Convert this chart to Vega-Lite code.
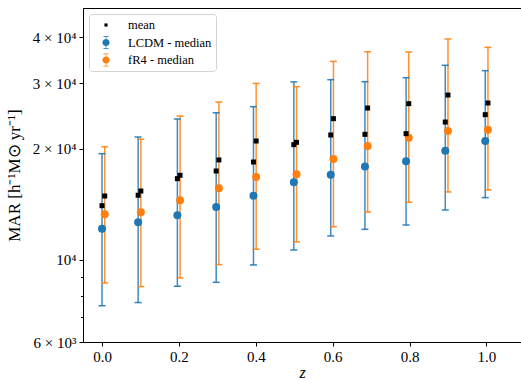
{
  "$schema": "https://vega.github.io/schema/vega-lite/v6.json",
  "width": 438,
  "height": 334,
  "autosize": {"type": "none"},
  "padding": {"left": 83, "top": 8, "right": 0, "bottom": 38},
  "background": "white",
  "config": {
    "view": {"stroke": "black", "strokeWidth": 1},
    "font": "Liberation Serif",
    "axis": {
      "grid": false,
      "domainColor": "black",
      "domainWidth": 1,
      "tickColor": "black",
      "tickWidth": 1,
      "tickSize": 4,
      "labelFont": "Liberation Serif",
      "labelFontSize": 15,
      "labelColor": "black",
      "labelPadding": 3,
      "titleFont": "Liberation Serif",
      "titleFontSize": 17,
      "titleFontWeight": "normal",
      "titleColor": "black"
    },
    "legend": {
      "labelFont": "Liberation Serif",
      "labelFontSize": 12.5,
      "labelColor": "black"
    }
  },
  "data": {
    "values": [
      {"series": "LCDM - median", "z": 0.0, "med": 12150, "lo": 7520, "hi": 19380, "mean": 14020},
      {"series": "LCDM - median", "z": 0.094, "med": 12640, "lo": 7670, "hi": 21500, "mean": 14960},
      {"series": "LCDM - median", "z": 0.196, "med": 13200, "lo": 8490, "hi": 24050, "mean": 16590},
      {"series": "LCDM - median", "z": 0.297, "med": 13910, "lo": 8700, "hi": 25000, "mean": 17400},
      {"series": "LCDM - median", "z": 0.394, "med": 14920, "lo": 9694, "hi": 25970, "mean": 18400},
      {"series": "LCDM - median", "z": 0.499, "med": 16220, "lo": 10640, "hi": 30300, "mean": 20500},
      {"series": "LCDM - median", "z": 0.595, "med": 17010, "lo": 11610, "hi": 30720, "mean": 21770},
      {"series": "LCDM - median", "z": 0.684, "med": 17880, "lo": 12100, "hi": 30340, "mean": 21860},
      {"series": "LCDM - median", "z": 0.791, "med": 18480, "lo": 12430, "hi": 31100, "mean": 21950},
      {"series": "LCDM - median", "z": 0.893, "med": 19750, "lo": 13650, "hi": 33600, "mean": 23600},
      {"series": "LCDM - median", "z": 0.997, "med": 20970, "lo": 14740, "hi": 32490, "mean": 24710},
      {"series": "fR4 - median", "z": 0.007, "med": 13290, "lo": 8667, "hi": 20230, "mean": 14890},
      {"series": "fR4 - median", "z": 0.101, "med": 13450, "lo": 8470, "hi": 21200, "mean": 15360},
      {"series": "fR4 - median", "z": 0.203, "med": 14500, "lo": 8940, "hi": 24500, "mean": 16940},
      {"series": "fR4 - median", "z": 0.304, "med": 15620, "lo": 9715, "hi": 26730, "mean": 18640},
      {"series": "fR4 - median", "z": 0.401, "med": 16760, "lo": 10690, "hi": 30020, "mean": 20970},
      {"series": "fR4 - median", "z": 0.506, "med": 17040, "lo": 11190, "hi": 29410, "mean": 20800},
      {"series": "fR4 - median", "z": 0.602, "med": 18750, "lo": 12300, "hi": 34430, "mean": 24100},
      {"series": "fR4 - median", "z": 0.691, "med": 20330, "lo": 13480, "hi": 36560, "mean": 25750},
      {"series": "fR4 - median", "z": 0.798, "med": 21410, "lo": 14320, "hi": 36500, "mean": 26460},
      {"series": "fR4 - median", "z": 0.900, "med": 22320, "lo": 15270, "hi": 39570, "mean": 27920},
      {"series": "fR4 - median", "z": 1.004, "med": 22500, "lo": 15460, "hi": 37570, "mean": 26570}
    ]
  },
  "encoding": {
    "x": {
      "field": "z",
      "type": "quantitative",
      "scale": {"domain": [-0.0495, 1.09], "nice": false, "zero": false},
      "axis": {
        "values": [0, 0.2, 0.4, 0.6, 0.8, 1.0],
        "format": ".1f",
        "title": "z",
        "titleFontStyle": "italic",
        "titleFontSize": 16,
        "titlePadding": 0
      }
    },
    "color": {
      "field": "series",
      "type": "nominal",
      "scale": {
        "domain": ["mean", "LCDM - median", "fR4 - median"],
        "range": ["#000000", "#1f77b4", "#ff7f0e"]
      },
      "legend": null
    }
  },
  "layer": [
    {
      "mark": {"type": "rule", "strokeWidth": 1.5, "opacity": 0.85},
      "encoding": {
        "y": {
          "field": "lo",
          "type": "quantitative",
          "scale": {"type": "log", "domain": [6000, 48000], "nice": false, "zero": false},
          "axis": {
            "values": [6000, 10000, 20000, 30000, 40000],
            "labelExpr": "datum.value == 6000 ? '6 × 10³' : datum.value == 10000 ? '10⁴' : datum.value == 20000 ? '2 × 10⁴' : datum.value == 30000 ? '3 × 10⁴' : '4 × 10⁴'",
            "title": "MAR [h⁻¹M⊙ yr⁻¹]",
            "titlePadding": 9
          }
        },
        "y2": {"field": "hi"}
      }
    },
    {
      "mark": {"type": "tick", "orient": "horizontal", "size": 7, "thickness": 1.5, "opacity": 0.9},
      "encoding": {
        "y": {
          "field": "lo",
          "type": "quantitative",
          "axis": {
            "orient": "left",
            "values": [7000, 8000, 9000],
            "labels": false,
            "domain": false,
            "tickSize": 2.5,
            "title": null
          }
        }
      }
    },
    {
      "mark": {"type": "tick", "orient": "horizontal", "size": 7, "thickness": 1.5, "opacity": 0.9},
      "encoding": {
        "y": {"field": "hi", "type": "quantitative", "axis": null}
      }
    },
    {
      "mark": {"type": "point", "shape": "circle", "filled": true, "size": 64, "opacity": 1},
      "encoding": {
        "y": {"field": "med", "type": "quantitative", "axis": null}
      }
    },
    {
      "mark": {"type": "point", "shape": "square", "filled": true, "size": 25, "opacity": 1, "color": "black"},
      "encoding": {
        "y": {"field": "mean", "type": "quantitative", "axis": null},
        "color": {"value": "black"}
      }
    },
    {
      "transform": [{"filter": "false"}],
      "mark": {"type": "point", "filled": true, "opacity": 1, "size": 170},
      "encoding": {
        "y": {"field": "med", "type": "quantitative", "axis": null},
        "color": {
          "field": "series",
          "type": "nominal",
          "scale": {
            "domain": ["mean", "LCDM - median", "fR4 - median"],
            "range": ["#000000", "#1f77b4", "#ff7f0e"]
          },
          "legend": {
            "title": null,
            "orient": "top-left",
            "offset": 6,
            "padding": 4,
            "rowPadding": 3.5,
            "symbolOffset": 6,
            "labelOffset": 15,
            "symbolSize": 170,
            "symbolOpacity": 1,
            "symbolStrokeWidth": 0,
            "fillColor": "rgba(255,255,255,0.8)",
            "strokeColor": "#d3d3d3",
            "cornerRadius": 3
          }
        },
        "shape": {
          "field": "series",
          "type": "nominal",
          "scale": {
            "domain": ["mean", "LCDM - median", "fR4 - median"],
            "range": [
              "M-0.24,-0.24H0.24V0.24H-0.24Z",
              "M-0.05,-1H0.05V1H-0.05Z M-0.4,-1H0.4V-0.88H-0.4Z M-0.4,0.88H0.4V1H-0.4Z M0.55,0A0.55,0.55,0,1,1,-0.55,0A0.55,0.55,0,1,1,0.55,0Z",
              "M-0.05,-1H0.05V1H-0.05Z M-0.4,-1H0.4V-0.88H-0.4Z M-0.4,0.88H0.4V1H-0.4Z M0.55,0A0.55,0.55,0,1,1,-0.55,0A0.55,0.55,0,1,1,0.55,0Z"
            ]
          },
          "legend": {
            "title": null,
            "orient": "top-left",
            "offset": 6,
            "padding": 4,
            "rowPadding": 3.5,
            "symbolOffset": 6,
            "labelOffset": 15,
            "symbolSize": 170,
            "symbolOpacity": 1,
            "symbolStrokeWidth": 0,
            "fillColor": "rgba(255,255,255,0.8)",
            "strokeColor": "#d3d3d3",
            "cornerRadius": 3
          }
        }
      }
    }
  ],
  "resolve": {"axis": {"y": "independent"}, "scale": {"color": "independent", "shape": "independent"}}
}
